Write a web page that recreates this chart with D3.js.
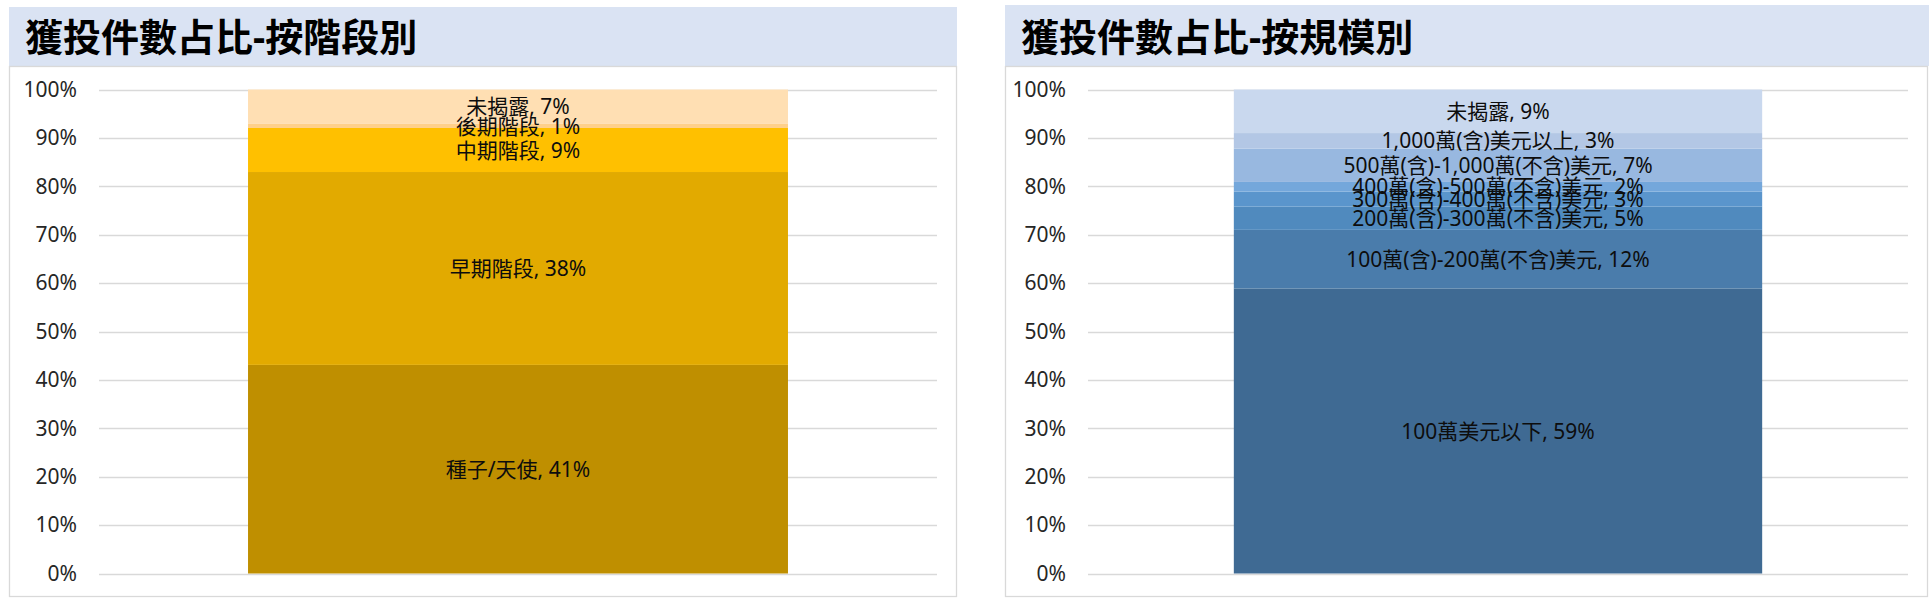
<!DOCTYPE html>
<html>
<head>
<meta charset="utf-8">
<script src="https://cdn.jsdelivr.net/npm/d3@7"></script>
<style>
  body { margin: 0; background: #fff; }
  text { font-family: "Noto Sans", "Noto Sans CJK TC", sans-serif; }
</style>
</head>
<body>
<svg id="chart" width="1929" height="598"></svg>
<script>
// left chart: by stage
const stageNames = ["種子/天使", "早期階段", "中期階段", "後期階段", "未揭露"];
const stageValues = [41.2, 38.1, 8.7, 0.8, 6.8];
const stageColors = ["#BF8F00", "#E2AA00", "#FFC000", "#FFD08A", "#FFDFB3"];

// right chart: by size
const sizeNames = [
  "100萬美元以下",
  "100萬(含)-200萬(不含)美元",
  "200萬(含)-300萬(不含)美元",
  "300萬(含)-400萬(不含)美元",
  "400萬(含)-500萬(不含)美元",
  "500萬(含)-1,000萬(不含)美元",
  "1,000萬(含)美元以上",
  "未揭露"
];
const sizeValues = [58.9, 12.1, 4.8, 3.1, 2.0, 6.9, 3.2, 9.0];
const sizeColors = ["#3F6A93", "#4A7CAB", "#508ABE", "#5A95CC", "#74A7DB", "#98B8E0", "#B3C7E5", "#C9D8EE"];

const yTicks = [0, 0.1, 0.2, 0.3, 0.4, 0.5, 0.6, 0.7, 0.8, 0.9, 1];

const svg = d3.select("#chart");

function drawPanel(opt) {
  const g = svg.append("g");

  // title band
  g.append("rect")
    .attr("x", opt.x).attr("y", opt.bandTop)
    .attr("width", opt.bandW).attr("height", 66 - opt.bandTop)
    .attr("fill", "#DAE3F3");
  g.append("text")
    .attr("x", opt.x + 16).attr("y", 51)
    .attr("font-family", "'Noto Sans CJK TC', sans-serif")
    .attr("font-size", 38).attr("font-weight", 700)
    .attr("fill", "#000")
    .text(opt.title);

  // chart box
  g.append("rect")
    .attr("x", opt.x + 0.5).attr("y", 66.5)
    .attr("width", opt.boxW - 1).attr("height", 530)
    .attr("fill", "#fff").attr("stroke", "#D9D9D9").attr("stroke-width", 1.3);

  const y = d3.scaleLinear().domain([0, 1]).range([573.5, 89.5]);
  const x = d3.scaleBand().domain(["all"])
    .range([opt.plotL, opt.plotR]).paddingInner(0).paddingOuter(0.276);

  // gridlines
  g.append("g").selectAll("line").data(yTicks).join("line")
    .attr("x1", opt.plotL).attr("x2", opt.plotR)
    .attr("y1", d => Math.round(y(d)) + 0.5).attr("y2", d => Math.round(y(d)) + 0.5)
    .attr("stroke", "#D9D9D9").attr("stroke-width", 1.5);

  // axis labels
  const yAxis = d3.axisLeft(y).tickValues(yTicks)
    .tickFormat(d3.format(".0%")).tickSize(0).tickPadding(0);
  const ax = g.append("g")
    .attr("transform", `translate(${opt.plotL - 22},0)`)
    .call(yAxis);
  ax.select(".domain").remove();
  ax.selectAll("text")
    .attr("font-size", 21).attr("fill", "#262626")
    .attr("font-family", "'Noto Sans', sans-serif");

  // stacked 100% bar
  const row = { cat: "all" };
  opt.names.forEach((n, i) => { row[n] = opt.values[i]; });
  const series = d3.stack().keys(opt.names).offset(d3.stackOffsetExpand)([row]);

  g.append("g").selectAll("rect").data(series).join("rect")
    .attr("x", x("all"))
    .attr("width", x.bandwidth())
    .attr("y", d => y(d[0][1]))
    .attr("height", d => y(d[0][0]) - y(d[0][1]))
    .attr("fill", (d, i) => opt.colors[i]);

  g.append("g").selectAll("text").data(series).join("text")
    .attr("x", x("all") + x.bandwidth() / 2)
    .attr("y", d => y((d[0][0] + d[0][1]) / 2))
    .attr("dy", "0.36em")
    .attr("text-anchor", "middle")
    .attr("font-size", 21).attr("fill", "#0d0d0d")
    .text((d, i) => `${opt.names[i]}, ${Math.round(opt.values[i])}%`);
}

drawPanel({
  x: 9, bandW: 948, boxW: 948, bandTop: 7,
  plotL: 99, plotR: 937,
  title: "獲投件數占比-按階段別",
  names: stageNames, values: stageValues, colors: stageColors
});

drawPanel({
  x: 1005, bandW: 924, boxW: 923, bandTop: 5,
  plotL: 1088, plotR: 1908,
  title: "獲投件數占比-按規模別",
  names: sizeNames, values: sizeValues, colors: sizeColors
});
</script>
</body>
</html>
